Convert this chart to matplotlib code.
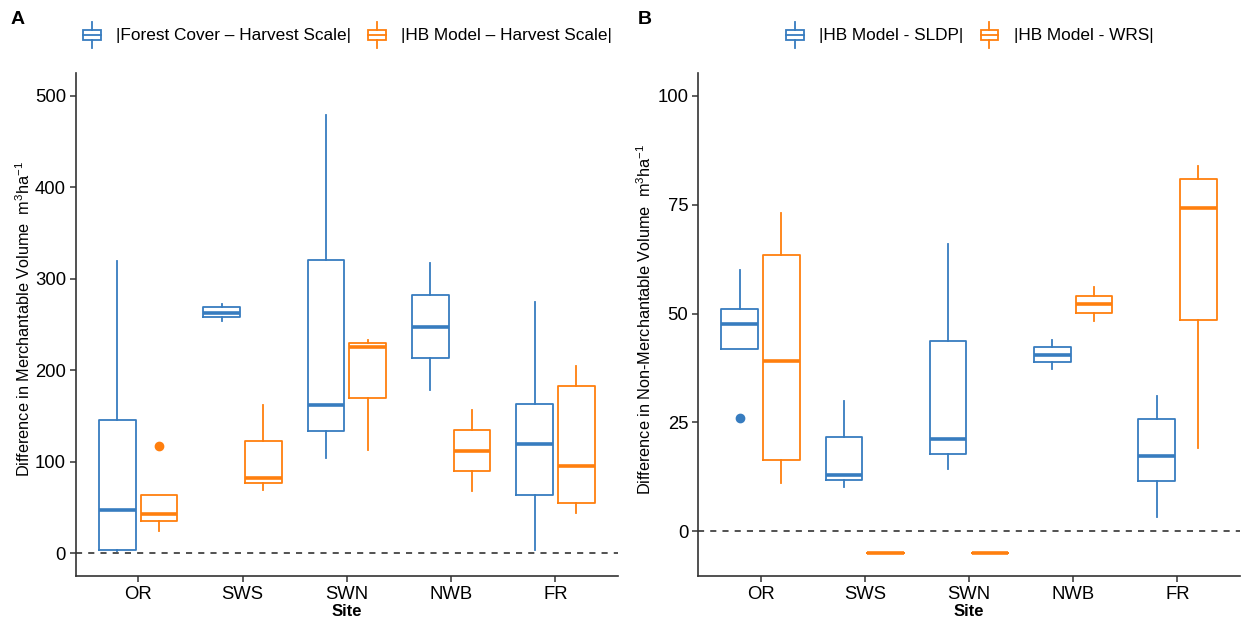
import matplotlib
matplotlib.use("Agg")
import matplotlib.pyplot as plt
from matplotlib.legend_handler import HandlerBase
from matplotlib.lines import Line2D
from matplotlib.patches import Rectangle

# ---- data -----------------------------------------------------------------
sites = ["OR", "SWS", "SWN", "NWB", "FR"]

# Panel A: |Forest Cover - Harvest Scale|
fc_whislo = [1.8, 253.8, 103.9, 178.7, 3.6]
fc_q1 = [3.6, 257.8, 133.1, 213.7, 63.8]
fc_med = [46.7, 263.0, 162.3, 247.3, 118.9]
fc_q3 = [145.9, 269.1, 320.9, 282.3, 163.4]
fc_whishi = [319.0, 272.8, 479.2, 316.9, 274.6]
fc_fliers = [[], [], [], [], []]

# Panel A: |HB Model - Harvest Scale|
hb_whislo = [23.7, 69.3, 113.1, 67.5, 43.8]
hb_q1 = [35.4, 76.2, 169.6, 89.4, 54.7]
hb_med = [43.0, 82.4, 225.7, 111.2, 94.8]
hb_q3 = [63.8, 122.5, 229.8, 134.2, 182.7]
hb_whishi = [63.8, 162.3, 233.4, 156.1, 204.6]
hb_fliers = [[117.4], [], [], [], []]

# Panel B: |HB Model - SLDP|
sldp_whislo = [41.8, 10.3, 14.3, 37.2, 3.2]
sldp_q1 = [41.8, 11.8, 17.7, 38.9, 11.5]
sldp_med = [47.6, 13.0, 21.2, 40.6, 17.2]
sldp_q3 = [51.1, 21.7, 43.6, 42.3, 25.8]
sldp_whishi = [60.0, 30.0, 66.0, 44.0, 31.0]
sldp_fliers = [[26.1], [], [], [], []]

# Panel B: |HB Model - WRS|
wrs_whislo = [11.2, -5, -5, 48.2, 19.1]
wrs_q1 = [16.5, -5, -5, 50.2, 48.6]
wrs_med = [39.1, -5, -5, 52.1, 74.2]
wrs_q3 = [63.5, -5, -5, 54.1, 80.8]
wrs_whishi = [73.0, -5, -5, 56.0, 83.9]
wrs_fliers = [[], [], [], [], []]

BLUE = "#377cbf"
ORANGE = "#ff7f0e"

plt.rcParams["font.family"] = ["Liberation Sans", "DejaVu Sans"]
plt.rcParams["mathtext.fontset"] = "custom"
plt.rcParams["mathtext.rm"] = "Liberation Sans"
plt.rcParams["mathtext.it"] = "Liberation Sans"
plt.rcParams["mathtext.default"] = "regular"


def make_stats(whislo, q1, med, q3, whishi, fliers):
    return [dict(whislo=a, q1=b, med=c, q3=d, whishi=e, fliers=f)
            for a, b, c, d, e, f in zip(whislo, q1, med, q3, whishi, fliers)]


def draw_group(ax, stats, offset, colour):
    pos = [i + 1 + offset for i in range(len(stats))]
    ax.bxp(stats, positions=pos, widths=0.35, showcaps=False,
           boxprops=dict(color=colour, lw=1.3),
           whiskerprops=dict(color=colour, lw=1.3),
           medianprops=dict(color=colour, lw=2.6, solid_capstyle="butt"),
           flierprops=dict(marker="o", markerfacecolor=colour, markeredgecolor=colour, markersize=6))


class BoxHandler(HandlerBase):
    def create_artists(self, legend, orig_handle, xdescent, ydescent, width, height, fontsize, trans):
        c = orig_handle.get_color()
        cx = width / 2 - xdescent
        cy = height / 2 - ydescent
        bw, bh = width * 0.85, height * 0.5
        rect = Rectangle((cx - bw / 2, cy - bh / 2), bw, bh, fill=False, ec=c, lw=1.3, transform=trans)
        med = Line2D([cx - bw / 2, cx + bw / 2], [cy, cy], color=c, lw=1.3, transform=trans)
        top = Line2D([cx, cx], [cy + bh / 2, cy + height * 0.62], color=c, lw=1.3, transform=trans)
        bot = Line2D([cx, cx], [cy - bh / 2, cy - height * 0.62], color=c, lw=1.3, transform=trans)
        return [rect, med, top, bot]


def style_axes(ax, ylim, yticks, ylabel, labels, label_x):
    ax.axhline(0, color="#222222", lw=1.1, ls=(0, (4, 4)), zorder=0)
    ax.set_xlim(0.4, 5.6)
    ax.set_ylim(*ylim)
    ax.set_yticks(yticks)
    ax.set_xticks(range(1, len(sites) + 1))
    ax.set_xticklabels(sites)
    for s in ["top", "right"]:
        ax.spines[s].set_visible(False)
    for s in ["left", "bottom"]:
        ax.spines[s].set_color("#333333")
        ax.spines[s].set_linewidth(1.2)
    ax.tick_params(labelsize=13.3, colors="#333333", labelcolor="black", length=4, width=1.1, pad=3)
    ax.set_ylabel(ylabel, fontsize=11.7)
    ax.yaxis.set_label_coords(label_x, 0.51)
    ax.set_xlabel("Site", fontsize=12, fontweight="bold", labelpad=1)
    handles = [Line2D([], [], color=BLUE), Line2D([], [], color=ORANGE)]
    ax.legend(handles, labels, handler_map={Line2D: BoxHandler()}, loc="center",
              bbox_to_anchor=(0.5, 1.076), ncol=2, frameon=False, fontsize=12.4,
              handlelength=1.2, handleheight=1.5, handletextpad=0.8, columnspacing=0.9)


fig = plt.figure(figsize=(12.41, 6.19), dpi=100)
W, H = 1241, 619
axA = fig.add_axes([75.7 / W, 1 - 576 / H, (618 - 75.7) / W, (576 - 73) / H])
axB = fig.add_axes([698 / W, 1 - 576 / H, (1240 - 698) / W, (576 - 73) / H])

draw_group(axA, make_stats(fc_whislo, fc_q1, fc_med, fc_q3, fc_whishi, fc_fliers), -0.2, BLUE)
draw_group(axA, make_stats(hb_whislo, hb_q1, hb_med, hb_q3, hb_whishi, hb_fliers), 0.2, ORANGE)
style_axes(axA, (-25, 525), [0, 100, 200, 300, 400, 500],
           "Difference in Merchantable Volume  m$^{3}$ha$^{-1}$",
           ["|Forest Cover \u2013 Harvest Scale|", "|HB Model \u2013 Harvest Scale|"], -0.078)

draw_group(axB, make_stats(sldp_whislo, sldp_q1, sldp_med, sldp_q3, sldp_whishi, sldp_fliers), -0.2, BLUE)
draw_group(axB, make_stats(wrs_whislo, wrs_q1, wrs_med, wrs_q3, wrs_whishi, wrs_fliers), 0.2, ORANGE)
style_axes(axB, (-10.25, 105.25), [0, 25, 50, 75, 100],
           "Difference in Non-Merchantable Volume  m$^{3}$ha$^{-1}$",
           ["|HB Model - SLDP|", "|HB Model - WRS|"], -0.081)

fig.text(18 / W, 1 - 20 / H, "A", fontsize=14, fontweight="bold", ha="center", va="center")
fig.text(645 / W, 1 - 20 / H, "B", fontsize=14, fontweight="bold", ha="center", va="center")

fig.savefig("out.png", dpi=100)
